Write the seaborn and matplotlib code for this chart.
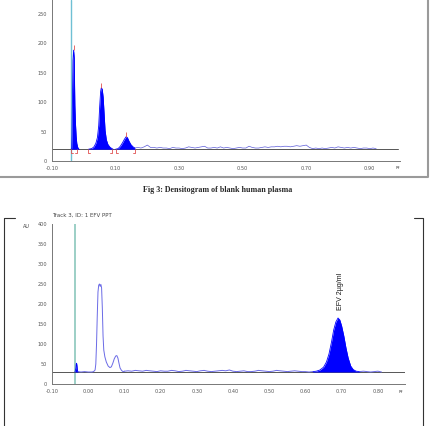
import matplotlib
matplotlib.use("Agg")
import matplotlib.pyplot as plt
import seaborn as sns

# ---- data ----
# Fig 3 (blank plasma): three integrated peaks + noisy tail
top_p1_rf = [-0.040, -0.038, -0.037, -0.036, -0.034, -0.032, -0.030, -0.029, -0.028, -0.026, -0.024, -0.022, -0.019, -0.015]
top_p1_au = [20, 22, 45, 90, 170, 188, 175, 130, 95, 62, 42, 30, 23, 20]
top_p2_rf = [0.015, 0.025, 0.032, 0.038, 0.043, 0.047, 0.050, 0.053, 0.055, 0.058, 0.061, 0.064, 0.067, 0.071, 0.076, 0.083, 0.092]
top_p2_au = [20, 21, 24, 30, 40, 60, 92, 118, 124, 122, 108, 80, 52, 36, 28, 23, 20]
top_p3_rf = [0.100, 0.108, 0.115, 0.122, 0.128, 0.133, 0.137, 0.142, 0.148, 0.155, 0.161]
top_p3_au = [20, 21, 25, 31, 37, 41, 40, 34, 28, 24, 22]
top_tail_rf = [0.161, 0.17, 0.18, 0.19, 0.20, 0.21, 0.22, 0.23, 0.24, 0.25, 0.26, 0.27, 0.28, 0.29,
               0.30, 0.31, 0.32, 0.33, 0.34, 0.35, 0.36, 0.37, 0.38, 0.39, 0.40, 0.41, 0.42, 0.43,
               0.44, 0.45, 0.46, 0.47, 0.48, 0.49, 0.50, 0.51, 0.52, 0.53, 0.54, 0.55, 0.56, 0.57,
               0.58, 0.59, 0.60, 0.61, 0.62, 0.63, 0.64, 0.65, 0.66, 0.67, 0.68, 0.69, 0.70, 0.71,
               0.72, 0.73, 0.74, 0.75, 0.76, 0.77, 0.78, 0.79, 0.80, 0.81, 0.82, 0.83, 0.84, 0.85,
               0.86, 0.87, 0.88, 0.89, 0.90, 0.91, 0.92]
top_tail_au = [22, 23, 22, 24, 27, 23, 23, 22, 23, 22, 22, 21, 23, 22,
               22, 21, 22, 24, 23, 22, 23, 24, 25, 22, 22, 23, 22, 24,
               22, 23, 22, 21, 22, 23, 22, 22, 25, 23, 22, 22, 23, 24,
               23, 24, 24, 25, 24, 25, 25, 24, 25, 26, 25, 26, 27, 23,
               21, 22, 21, 22, 21, 22, 23, 22, 24, 23, 22, 23, 22, 23,
               22, 21, 22, 22, 21, 22, 21]
top_marks_start = [-0.039, 0.012, 0.101]
top_marks_end = [-0.021, 0.090, 0.160]
top_apex_rf = [-0.032, 0.055, 0.133]
top_apex_au = [188, 124, 41]

# Track 3 (EFV 2 ug/ml in plasma)
bot_p1_rf = [-0.037, -0.036, -0.034, -0.033, -0.032, -0.031, -0.030, -0.028]
bot_p1_au = [30, 31, 40, 50, 52, 45, 34, 31]
bot_main_rf = [-0.028, -0.02, -0.01, 0.0, 0.010, 0.015, 0.019, 0.021, 0.023, 0.025, 0.027, 0.029, 0.031, 0.033,
               0.035, 0.037, 0.039, 0.041, 0.043, 0.046, 0.050, 0.055, 0.060, 0.064, 0.068,
               0.072, 0.076, 0.079, 0.082, 0.085, 0.088, 0.092, 0.096, 0.100]
bot_main_au = [31, 30, 31, 30, 30, 31, 35, 50, 100, 170, 230, 247, 250, 244,
               249, 240, 190, 120, 85, 68, 55, 45, 41, 43, 52,
               63, 70, 71, 65, 52, 40, 34, 31, 32]
bot_tail_rf = [0.100, 0.11, 0.12, 0.13, 0.14, 0.15, 0.16, 0.17, 0.18, 0.19, 0.20, 0.21, 0.22, 0.23,
               0.24, 0.25, 0.26, 0.27, 0.28, 0.29, 0.30, 0.31, 0.32, 0.33, 0.34, 0.35, 0.36,
               0.37, 0.38, 0.39, 0.40, 0.41, 0.42, 0.43, 0.44, 0.45, 0.46, 0.47, 0.48, 0.49,
               0.50, 0.51, 0.52, 0.53, 0.54, 0.55, 0.56, 0.57, 0.58, 0.59, 0.60, 0.61, 0.62]
bot_tail_au = [32, 33, 32, 34, 33, 32, 34, 33, 32, 31, 33, 32, 32, 34,
               33, 31, 32, 34, 33, 32, 31, 33, 34, 32, 31, 32, 33,
               34, 33, 35, 32, 31, 32, 33, 31, 31, 32, 34, 33, 32,
               31, 32, 34, 33, 32, 31, 32, 33, 32, 31, 31, 30, 31]
efv_rf = [0.620, 0.630, 0.640, 0.650, 0.658, 0.665, 0.672, 0.678, 0.684, 0.690, 0.695, 0.700,
          0.706, 0.712, 0.718, 0.725, 0.732, 0.740, 0.750]
efv_au = [31, 32, 35, 42, 55, 75, 105, 135, 155, 165, 160, 145,
          120, 90, 65, 45, 36, 32, 31]
bot_end_rf = [0.750, 0.76, 0.77, 0.78, 0.79, 0.80, 0.81]
bot_end_au = [31, 32, 31, 30, 31, 32, 30]

top_yticks = [0, 50, 100, 150, 200, 250]
top_xticks = [-0.10, 0.10, 0.30, 0.50, 0.70, 0.90]
bot_yticks = [0, 50, 100, 150, 200, 250, 300, 350, 400]
bot_xticks = [-0.10, 0.00, 0.10, 0.20, 0.30, 0.40, 0.50, 0.60, 0.70, 0.80]

sns.set_style("white")
plt.rcParams["font.family"] = ["DejaVu Sans"]

W, H = 431, 426
fig = plt.figure(figsize=(W / 100, H / 100), dpi=100)

fill_c = "#0000ff"
trace_c = "#6a6ae6"
axis_c = "#777777"
red_c = "#e05050"


def style_axis(ax, xt, yt):
    for s in ["top", "right"]:
        ax.spines[s].set_visible(False)
    for s in ["left", "bottom"]:
        ax.spines[s].set_color(axis_c)
        ax.spines[s].set_linewidth(0.7)
    ax.set_xticks(xt)
    ax.set_xticklabels(["%.2f" % v for v in xt])
    ax.set_yticks(yt)
    ax.set_yticklabels([str(v) for v in yt])
    ax.tick_params(axis="both", labelsize=3.6, labelcolor="#555555", color=axis_c,
                   length=2, width=0.5, pad=1.5)
    ax.set_xlabel("")
    ax.set_ylabel("")
    ax.set_facecolor("none")


# ---- top panel ----
ax1 = fig.add_axes([52 / W, (H - 161) / H, 348 / W, 161 / H])
ax1.set_xlim(-0.10, 0.995)
ax1.set_ylim(0, 273)
ax1.axvline(-0.040, color="#6fc0d4", lw=1.0, zorder=1)
ax1.axhline(20, color="#555555", lw=0.7, xmax=0.995, zorder=1)
for rf, au in [(top_p1_rf, top_p1_au), (top_p2_rf, top_p2_au), (top_p3_rf, top_p3_au)]:
    ax1.fill_between(rf, 20, au, color=fill_c, lw=0, zorder=2)
    sns.lineplot(x=rf, y=au, ax=ax1, color=fill_c, lw=0.6, sort=False, estimator=None, zorder=3)
sns.lineplot(x=top_tail_rf, y=top_tail_au, ax=ax1, color="#5a5ad8", lw=0.5,
             sort=False, estimator=None, zorder=3)
ax1.vlines(top_apex_rf, top_apex_au, [a + 8 for a in top_apex_au], color=red_c, lw=0.6, zorder=4)
ax1.vlines(top_marks_start + top_marks_end, 13, 20, color=red_c, lw=0.6, zorder=4)
for s in top_marks_start:
    ax1.plot([s, s + 0.006], [13, 13], color=red_c, lw=0.6, zorder=4)
for e in top_marks_end:
    ax1.plot([e - 0.006, e], [13, 13], color=red_c, lw=0.6, zorder=4)
style_axis(ax1, top_xticks, top_yticks)

# ---- bottom panel ----
ax2 = fig.add_axes([52 / W, (H - 384) / H, 353 / W, 160 / H])
ax2.set_xlim(-0.10, 0.875)
ax2.set_ylim(0, 400)
ax2.axvline(-0.037, color="#9ccfc6", lw=1.4, zorder=1)
ax2.axhline(30, color="#555555", lw=0.7, zorder=1)
ax2.fill_between(bot_p1_rf, 30, bot_p1_au, color=fill_c, lw=0, zorder=2)
sns.lineplot(x=bot_p1_rf, y=bot_p1_au, ax=ax2, color=fill_c, lw=0.6, sort=False, estimator=None, zorder=3)
ax2.fill_between(efv_rf, 30, efv_au, color=fill_c, lw=0, zorder=2)
sns.lineplot(x=efv_rf, y=efv_au, ax=ax2, color=fill_c, lw=0.6, sort=False, estimator=None, zorder=3)
for rf, au in [(bot_main_rf, bot_main_au), (bot_tail_rf, bot_tail_au), (bot_end_rf, bot_end_au)]:
    sns.lineplot(x=rf, y=au, ax=ax2, color=trace_c, lw=0.7, sort=False, estimator=None, zorder=3)
ax2.text(0.698, 185, "EFV 2µg/ml", rotation=90, ha="center", va="bottom",
         fontsize=5.0, family=["Liberation Sans", "DejaVu Sans"], color="#111111")
style_axis(ax2, bot_xticks, bot_yticks)

# ---- frames, captions and small labels (pixel overlay) ----
ov = fig.add_axes([0, 0, 1, 1], zorder=-1)
ov.set_xlim(0, W)
ov.set_ylim(H, 0)
ov.axis("off")
ov.plot([0, 428, 428], [177, 177, 0], color="#9a9a9a", lw=1.5)
ov.plot([15, 4, 4], [218, 218, H], color="#333333", lw=0.8)
ov.plot([414, 423, 423], [218, 218, H], color="#333333", lw=0.8)
ov.text(218, 190, "Fig 3: Densitogram of blank human plasma", ha="center", va="center",
        fontsize=5.8, fontweight="bold", family=["Liberation Serif", "DejaVu Serif"])
ov.text(52, 215, "Track 3, ID: 1 EFV PPT", ha="left", va="center", fontsize=4, color="#444444")
ov.text(26, 227, "AU", ha="center", va="center", fontsize=3.5, color="#444444")
ov.text(398, 168, "Rf", ha="center", va="center", fontsize=3, color="#444444")
ov.text(401, 392, "Rf", ha="center", va="center", fontsize=3, color="#444444")

fig.savefig("out.png", dpi=100, facecolor="white")
